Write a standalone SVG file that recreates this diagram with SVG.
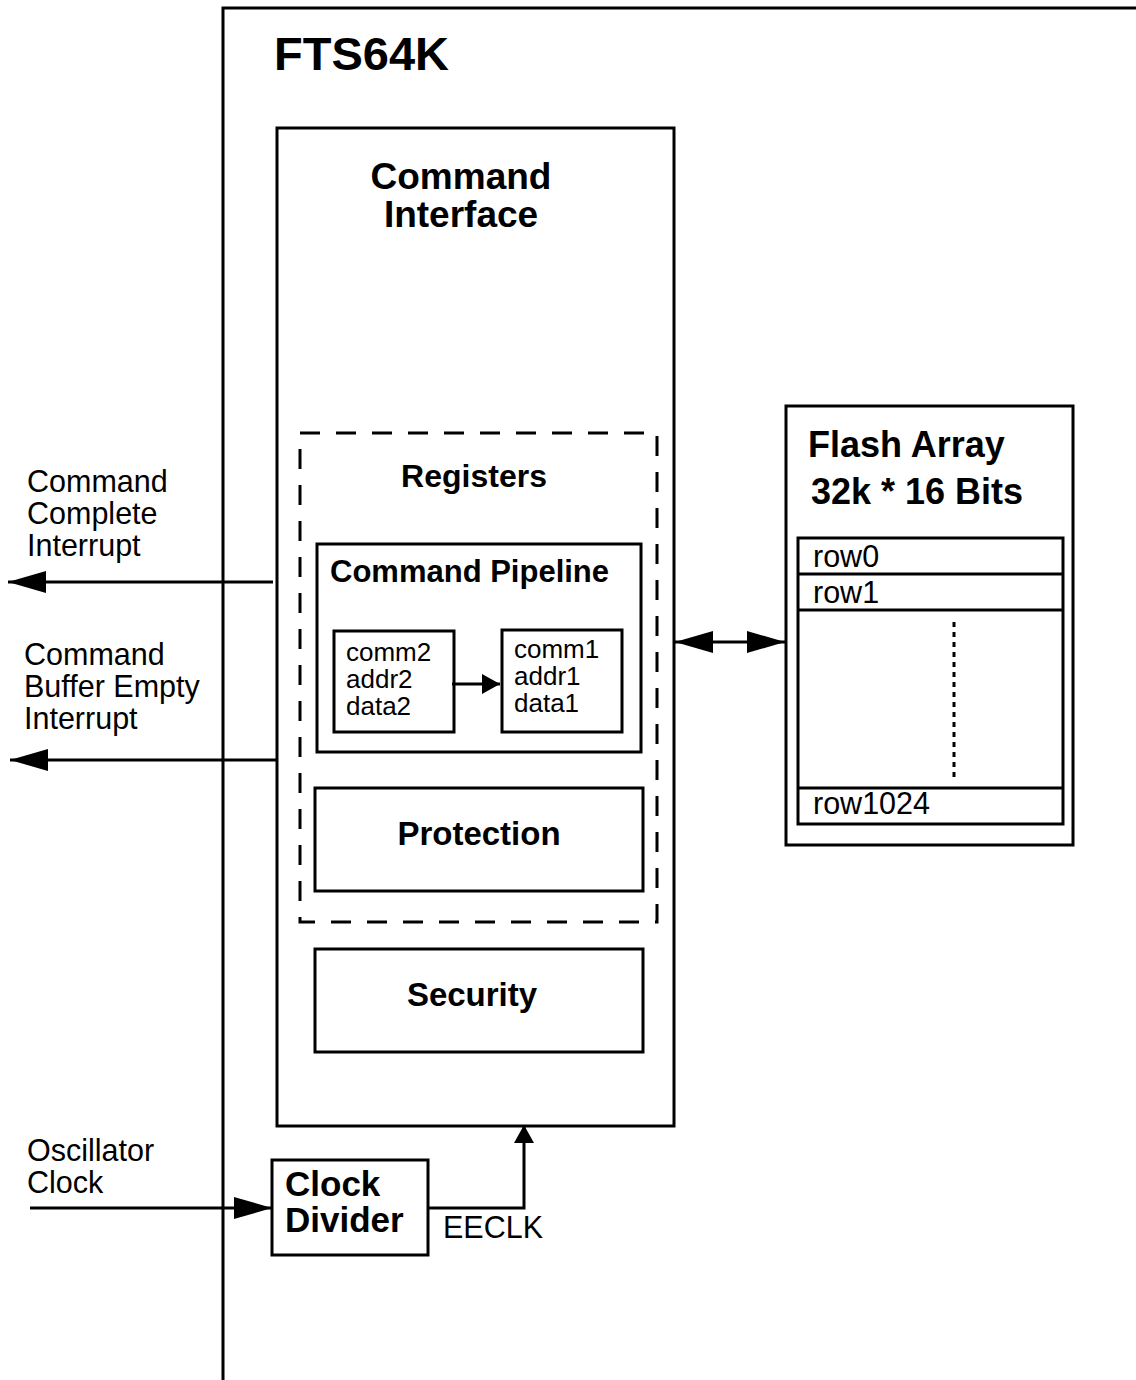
<svg xmlns="http://www.w3.org/2000/svg" width="1136" height="1380" viewBox="0 0 1136 1380">
<style>
.box{fill:none;stroke:#000;stroke-width:3}
.ln{fill:none;stroke:#000;stroke-width:3}
.t{font-family:"Liberation Sans",Arial,Helvetica,sans-serif;fill:#000}
.r{font-size:30.5px}
.rs{font-size:26px}
.b{font-weight:bold}
</style>
<defs>
<marker id="big" viewBox="0 0 38 22" refX="38" refY="11" markerWidth="38" markerHeight="22" markerUnits="userSpaceOnUse" orient="auto-start-reverse">
<path d="M0,0 L38,11 L0,22 Z" fill="#000"/>
</marker>
<marker id="small" viewBox="0 0 18 20" refX="18" refY="10" markerWidth="18" markerHeight="20" markerUnits="userSpaceOnUse" orient="auto">
<path d="M0,0 L18,10 L0,20 Z" fill="#000"/>
</marker>
</defs>
<rect width="1136" height="1380" fill="#fff"/>

<g id="fts64k">
<path class="ln" d="M223,1380 V8 H1136"/>
<text class="t b" x="274" y="70" font-size="47">FTS64K</text>
</g>

<g id="command-interface">
<rect class="box" x="277" y="128" width="397" height="998"/>
<text class="t b" font-size="37" text-anchor="middle" x="461" y="189">Command</text>
<text class="t b" font-size="37" text-anchor="middle" x="461" y="227">Interface</text>
</g>

<g id="registers">
<rect x="300" y="433" width="357" height="489" fill="none" stroke="#000" stroke-width="3" stroke-dasharray="20 16"/>
<text class="t b" font-size="32" text-anchor="middle" x="474" y="487">Registers</text>
</g>

<g id="command-pipeline">
<rect class="box" x="317" y="544" width="324" height="208"/>
<text class="t b" font-size="31" x="330" y="582">Command Pipeline</text>
</g>

<g id="stage2">
<rect class="box" x="334" y="631" width="120" height="101"/>
<text class="t rs" x="346" y="661">comm2</text>
<text class="t rs" x="346" y="688">addr2</text>
<text class="t rs" x="346" y="715">data2</text>
</g>

<g id="stage1">
<rect class="box" x="502" y="630" width="120" height="102"/>
<text class="t rs" x="514" y="658">comm1</text>
<text class="t rs" x="514" y="685">addr1</text>
<text class="t rs" x="514" y="712">data1</text>
</g>

<g id="protection">
<rect class="box" x="315" y="788" width="328" height="103"/>
<text class="t b" font-size="33" text-anchor="middle" x="479" y="845">Protection</text>
</g>

<g id="security">
<rect class="box" x="315" y="949" width="328" height="103"/>
<text class="t b" font-size="33" text-anchor="middle" x="472" y="1006">Security</text>
</g>

<g id="flash-array">
<rect class="box" x="786" y="406" width="287" height="439"/>
<text class="t b" font-size="36" x="808" y="457">Flash Array</text>
<text class="t b" font-size="36" x="811" y="504">32k * 16 Bits</text>
<rect class="box" x="798" y="538" width="265" height="286"/>
<line class="ln" x1="798" y1="574" x2="1063" y2="574"/>
<line class="ln" x1="798" y1="610" x2="1063" y2="610"/>
<line class="ln" x1="798" y1="788" x2="1063" y2="788"/>
<line x1="954" y1="622" x2="954" y2="778" stroke="#000" stroke-width="3" stroke-dasharray="5 5"/>
<text class="t r" x="813" y="567">row0</text>
<text class="t r" x="813" y="603">row1</text>
<text class="t r" x="813" y="814">row1024</text>
</g>

<g id="clock-divider">
<rect class="box" x="272" y="1160" width="156" height="95"/>
<text class="t b" font-size="35" x="285" y="1196">Clock</text>
<text class="t b" font-size="35" x="285" y="1232">Divider</text>
</g>

<g id="labels">
<text class="t r" x="27" y="492">Command</text>
<text class="t r" x="27" y="524">Complete</text>
<text class="t r" x="27" y="556">Interrupt</text>
<text class="t r" x="24" y="665">Command</text>
<text class="t r" x="24" y="697">Buffer Empty</text>
<text class="t r" x="24" y="729">Interrupt</text>
<text class="t r" x="27" y="1161">Oscillator</text>
<text class="t r" x="27" y="1193">Clock</text>
<text class="t r" x="443" y="1238">EECLK</text>
</g>

<g id="connectors">
<line class="ln" x1="273" y1="582" x2="8" y2="582" marker-end="url(#big)"/>
<line class="ln" x1="276" y1="760" x2="10" y2="760" marker-end="url(#big)"/>
<line class="ln" x1="675" y1="642" x2="785" y2="642" marker-start="url(#big)" marker-end="url(#big)"/>
<line class="ln" x1="30" y1="1208" x2="272" y2="1208" marker-end="url(#big)"/>
<path class="ln" d="M428,1208 H524 V1125" marker-end="url(#small)"/>
<line class="ln" x1="452" y1="684" x2="500" y2="684" marker-end="url(#small)"/>
</g>
</svg>
